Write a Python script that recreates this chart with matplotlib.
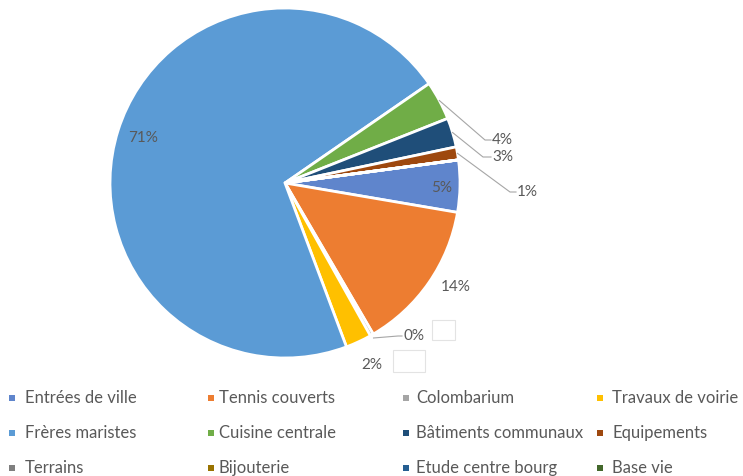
import numpy as np
import matplotlib.pyplot as plt
from matplotlib.patches import Rectangle

plt.rcParams['font.family'] = ['Lato', 'DejaVu Sans']

# Données (en %)
categories = ['Entrées de ville', 'Tennis couverts', 'Colombarium', 'Travaux de voirie',
              'Frères maristes', 'Cuisine centrale', 'Bâtiments communaux', 'Equipements',
              'Terrains', 'Bijouterie', 'Etude centre bourg', 'Base vie']
values = [4.8, 13.9, 0.3, 2.4, 71.1, 3.6, 2.7, 1.2, 0, 0, 0, 0]
pct_labels = ['5%', '14%', '0%', '2%', '71%', '4%', '3%', '1%', '', '', '', '']
colors = ['#5F85CC', '#ED7D31', '#A5A5A5', '#FFC000', '#5B9BD5', '#70AD47',
          '#1F4E79', '#9E480E', '#7F7F7F', '#997300', '#255E91', '#43682B']

W, H = 743, 476
fig = plt.figure(figsize=(W / 100, H / 100), dpi=100)
ax = fig.add_axes([0, 0, 1, 1])

cx, cy, R = 285, H - 183, 175
wedges, _ = ax.pie(values, colors=colors, startangle=7.6, counterclock=False,
                   center=(cx, cy), radius=R, frame=True,
                   wedgeprops=dict(edgecolor='white', linewidth=2))
ax.set_xlim(0, W)
ax.set_ylim(0, H)
ax.set_aspect('equal')
ax.axis('off')

txt = '#595959'
line_col = '#A6A6A6'
fs = 11

def mid(i):
    w = wedges[i]
    a = np.deg2rad((w.theta1 + w.theta2) / 2)
    return np.cos(a), np.sin(a)

# étiquettes sans ligne de rappel (indice, rayon relatif, décalage)
for i, r, dx, dy in [(0, 0.88, 3, -2), (4, 0.84, -2, 1), (1, 1.1, 12, 6), (3, 1.1, 6, -7)]:
    c, s = mid(i)
    ax.text(cx + r * R * c + dx, cy + r * R * s + dy, pct_labels[i], color=txt,
            fontsize=fs, ha='center', va='center')

# étiquettes avec lignes de rappel: (indice, coude, position du texte)
callouts = [(5, (485, H - 140), (491, H - 140)),
            (6, (483, H - 157), (491, H - 157)),
            (7, (510, H - 192), (516, H - 192)),
            (2, (398, H - 336), (402, H - 336))]
for i, elbow, tpos in callouts:
    c, s = mid(i)
    k = 1.02 if i == 2 else 1.0
    p0 = (cx + k * R * c, cy + k * R * s)
    ax.plot([p0[0], elbow[0], tpos[0]], [p0[1], elbow[1], tpos[1]], color=line_col, lw=0.8)
    ax.text(tpos[0] + 1, tpos[1], pct_labels[i], color=txt, fontsize=fs,
            ha='left', va='center')

# cadres vides
for x0, y0, w, h in [(432, 320, 23, 20), (393, 350, 32, 22)]:
    ax.add_patch(Rectangle((x0, H - y0 - h), w, h, fill=False, edgecolor='#E3E3E3', lw=0.8))

# légende sur 4 colonnes
marker_x = [11.5, 211, 406, 600]
text_x = [25, 219, 416, 612]
row_y = [398, 433, 468]
for k, (name, col) in enumerate(zip(categories, colors)):
    y = H - row_y[k // 4]
    mx = marker_x[k % 4]
    ax.add_patch(Rectangle((mx - 3, y - 3), 6, 6, facecolor=col, edgecolor='none'))
    ax.text(text_x[k % 4], y, name, color=txt, fontsize=12, ha='left', va='center')

fig.savefig('out.png', dpi=100)
